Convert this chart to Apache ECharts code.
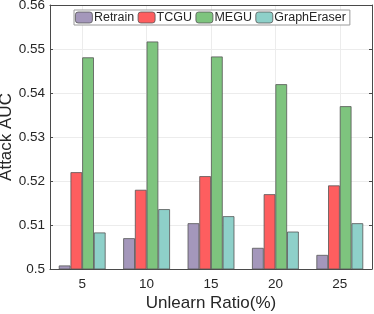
<!DOCTYPE html>
<html><head><meta charset="utf-8">
<script src="https://cdn.jsdelivr.net/npm/echarts@6/dist/echarts.min.js"></script>
<style>html,body{margin:0;padding:0;background:#fff}#c{width:374px;height:314px}</style>
</head><body><div id="c"></div>
<script>
const categories = ['5', '10', '15', '20', '25'];
const retrain = [0.5008, 0.5070, 0.5104, 0.5048, 0.5032];
const tcgu = [0.5220, 0.5180, 0.5211, 0.5170, 0.5190];
const megu = [0.5481, 0.5517, 0.5483, 0.5420, 0.5370];
const graphEraser = [0.5083, 0.5136, 0.5120, 0.5085, 0.5104];
const seriesNames = ['Retrain', 'TCGU', 'MEGU', 'GraphEraser'];
const seriesColors = ['#a497bb', '#fe5e5f', '#7ec47e', '#8ed0c9'];
const xTitle = 'Unlearn Ratio(%)';
const yTitle = 'Attack AUC';

const font = '"Liberation Sans", Arial, sans-serif';
const chart = echarts.init(document.getElementById('c'), null, {renderer: 'canvas'});
const lineCol = '#4a4a4a';
const seriesData = [retrain, tcgu, megu, graphEraser];
chart.setOption({
  animation: false,
  textStyle: {fontFamily: font},
  grid: {left: 50, right: 2, top: 5, bottom: 45, containLabel: false, outerBoundsMode: 'none'},
  legend: {
    left: 74, top: 10, padding: [1, 4, 1, 1], itemGap: 3.5, itemWidth: 17, itemHeight: 11,
    borderColor: '#9a9a9a', borderWidth: 1, backgroundColor: '#fff',
    textStyle: {fontSize: 12.5, color: '#262626', fontFamily: font, padding: [0, 0, 0, -3.5]},
    data: seriesNames.map((n, i) => ({name: n, itemStyle: {color: seriesColors[i], borderColor: '#555', borderWidth: 0.8}}))
  },
  xAxis: [{
    type: 'category', data: categories, position: 'bottom',
    name: xTitle, nameLocation: 'middle', nameGap: 26, nameMoveOverlap: false,
    nameTextStyle: {fontSize: 17, color: '#262626', fontFamily: font},
    axisLine: {lineStyle: {color: lineCol, width: 1}},
    axisTick: {inside: true, alignWithLabel: true, length: 3, lineStyle: {color: lineCol}},
    axisLabel: {fontSize: 13.5, color: '#262626', margin: 8, fontFamily: font},
    splitLine: {show: true, alignWithLabel: true, lineStyle: {color: '#ececec', width: 1}}
  }, {
    type: 'category', data: categories, position: 'top',
    axisLine: {lineStyle: {color: lineCol, width: 1}},
    axisTick: {inside: true, alignWithLabel: true, length: 3, lineStyle: {color: lineCol}},
    axisLabel: {show: false}, splitLine: {show: false}
  }],
  yAxis: [{
    type: 'value', min: 0.5, max: 0.56, interval: 0.01, position: 'left',
    name: yTitle, nameLocation: 'middle', nameGap: 35, nameMoveOverlap: false,
    nameTextStyle: {fontSize: 17, color: '#262626', fontFamily: font},
    axisLine: {show: true, lineStyle: {color: lineCol, width: 1}},
    axisTick: {show: true, inside: true, length: 3, lineStyle: {color: lineCol}},
    axisLabel: {fontSize: 13.5, color: '#262626', margin: 5, fontFamily: font,
      formatter: v => String(parseFloat(v.toFixed(2)))},
    splitLine: {show: true, lineStyle: {color: '#ececec', width: 1}}
  }, {
    type: 'value', min: 0.5, max: 0.56, interval: 0.01, position: 'right',
    axisLine: {show: true, lineStyle: {color: lineCol, width: 1}},
    axisTick: {show: true, inside: true, length: 3, lineStyle: {color: lineCol}},
    axisLabel: {show: false}, splitLine: {show: false}
  }],
  series: seriesNames.map((n, i) => ({
    name: n, type: 'bar', xAxisIndex: 0, yAxisIndex: 0,
    data: seriesData[i], barWidth: 11.7, barGap: '0%',
    itemStyle: {color: seriesColors[i], borderColor: '#555', borderWidth: 0.8}
  }))
});
</script></body></html>
